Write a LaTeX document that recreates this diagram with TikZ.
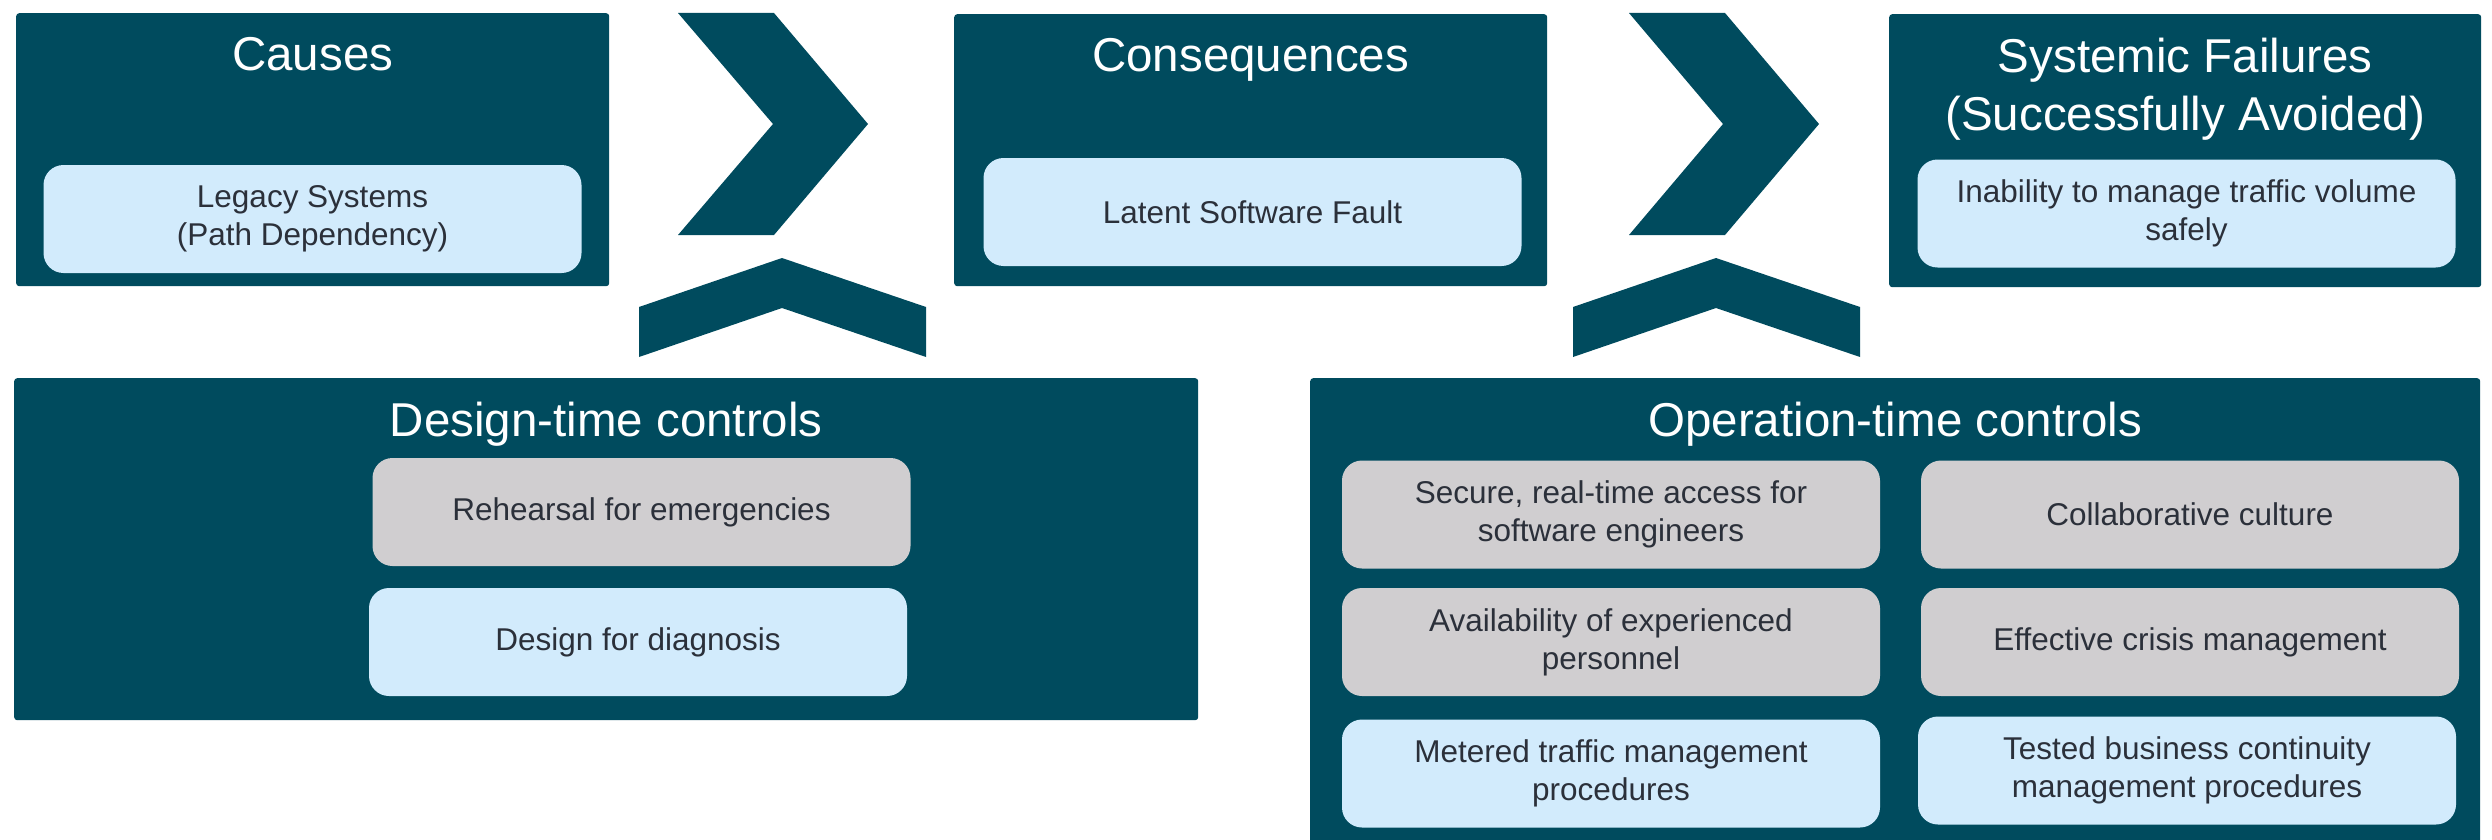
\documentclass[tikz,border=0pt]{standalone}
\usepackage{fontspec}
\setmainfont{Liberation Sans}
\usetikzlibrary{positioning}

\definecolor{teal}{HTML}{004B5E}
\definecolor{paleblue}{HTML}{D2EBFC}
\definecolor{palegrey}{HTML}{D0CED0}
\definecolor{ink}{HTML}{2B303A}

\tikzset{
  panel/.style={fill=teal, rounded corners=3pt, anchor=north west, inner sep=0pt},
  heading/.style={text=white, inner sep=0pt, align=center,
    font=\fontsize{47.5}{58}\selectfont},
  item/.style={rounded corners=20pt, minimum width=538pt, minimum height=108pt,
    inner sep=0pt, align=center, text=ink, font=\fontsize{31.5}{38}\selectfont},
  bluebox/.style={item, fill=paleblue},
  greybox/.style={item, fill=palegrey},
  chevron/.style={fill=teal}
}

\begin{document}
\begin{tikzpicture}[x=1pt,y=-1pt]
          \clip (0,0) rectangle (2492,840);

          % top row
          \node[panel, minimum width=593pt, minimum height=273pt] (causes)   at (16,13)   {};
          \node[panel, minimum width=593pt, minimum height=272pt] (conseq)   at (954,14)  {};
          \node[panel, minimum width=592pt, minimum height=273pt] (failures) at (1889,14) {};

          \node[heading, below=24pt of causes.north]   (causesT)   {Causes};
          \node[heading, below=24pt of conseq.north]   (conseqT)   {Consequences};
          \node[heading, below=24pt of failures.north] (failuresT) {Systemic Failures\\(Successfully Avoided)};

          \node[bluebox] (legacy)    at (312.5,219)  {Legacy Systems\\(Path Dependency)};
          \node[bluebox] (latent)    at (1252.5,212) {Latent Software Fault};
          \node[bluebox] (inability) at (2186.5,213.5) {Inability to manage traffic volume\\safely};

          % bottom row
          \node[panel, minimum width=1184pt, minimum height=342pt] (design)    at (14,378)   {};
          \node[panel, minimum width=1170pt, minimum height=480pt] (operation) at (1310,378) {};

          \node[heading, below=24pt of design.north]    (designT)    {Design-time controls};
          \node[heading, below=24pt of operation.north] (operationT) {Operation-time controls};

          \node[greybox] (rehearsal) at (641.5,512) {Rehearsal for emergencies};
          \node[bluebox] (diagnosis) at (638,642)   {Design for diagnosis};

          \node[greybox] (secure)  at (1611,514.5) {Secure, real-time access for\\software engineers};
          \node[greybox] (collab)  at (2190,514.5) {Collaborative culture};
          \node[greybox] (avail)   at (1611,642)   {Availability of experienced\\personnel};
          \node[greybox] (crisis)  at (2190,642)   {Effective crisis management};
          \node[bluebox] (metered) at (1611,773.5) {Metered traffic management\\procedures};
          \node[bluebox] (tested)  at (2187,770.5) {Tested business continuity\\management procedures};

          % chevrons
          \fill[chevron] (678,13) -- (774,13) -- (868,124) -- (774,235) -- (678,235) -- (773,124) -- cycle;
          \fill[chevron] (1629,13) -- (1725,13) -- (1819,124) -- (1725,235) -- (1629,235) -- (1723,124) -- cycle;
          \fill[chevron] (782,258) -- (926,307) -- (926,357) -- (782,308) -- (639,357) -- (639,307) -- cycle;
          \fill[chevron] (1716,258) -- (1860,307) -- (1860,357) -- (1716,308) -- (1573,357) -- (1573,307) -- cycle;
\end{tikzpicture}
\end{document}
